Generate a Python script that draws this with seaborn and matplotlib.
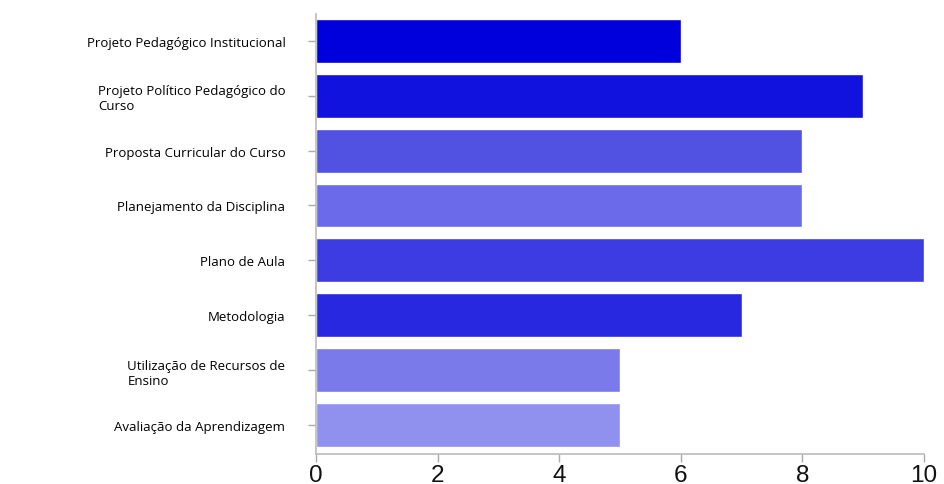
import matplotlib
matplotlib.use("Agg")
import matplotlib.pyplot as plt
import matplotlib.transforms as mtransforms
import seaborn as sns
import pandas as pd

categories = [
    "Projeto Pedagógico Institucional",
    "Projeto Político Pedagógico do\nCurso",
    "Proposta Curricular do Curso",
    "Planejamento da Disciplina",
    "Plano de Aula",
    "Metodologia",
    "Utilização de Recursos de\nEnsino",
    "Avaliação da Aprendizagem",
]
values = [6, 9, 8, 8, 10, 7, 5, 5]
colors = ["#0000DC", "#1212DE", "#5252E2", "#6A6AEA", "#3C3CE2", "#2828E0", "#7A7AEA", "#9090EE"]
xticks = [0, 2, 4, 6, 8, 10]

df = pd.DataFrame({"cat": categories, "val": values})

sns.set_style("white")
fig = plt.figure(figsize=(9.44, 4.85), dpi=100)
ax = fig.add_axes([0.3347, 0.062, 0.6441, 0.907])
sns.barplot(data=df, y="cat", x="val", hue="cat", palette=colors, legend=False,
            orient="h", width=0.8, ax=ax, saturation=1)
ax.set_xlim(0, 10)
ax.set_ylim(7.53, -0.49)
ax.set_xticks(xticks)
ax.set_xticklabels([str(t) for t in xticks], fontsize=17.5, fontfamily="Liberation Sans",
                   color="#111111")
ax.set_xlabel("")
ax.set_ylabel("")
offset = mtransforms.ScaledTranslation(0, 6 / 100, fig.dpi_scale_trans)
for lab in ax.get_yticklabels():
    lab.set_fontsize(9.5)
    lab.set_fontfamily("Open Sans")
    lab.set_color("black")
    lab.set_horizontalalignment("right")
    lab.set_multialignment("left")
    lab.set_transform(lab.get_transform() + offset)
for s in ["top", "right"]:
    ax.spines[s].set_visible(False)
for s in ["left", "bottom"]:
    ax.spines[s].set_color("#BBBBBB")
    ax.spines[s].set_linewidth(1.2)
ax.tick_params(axis="both", which="both", direction="out", length=6, color="#AAAAAA", width=1,
               left=True, bottom=True)
ax.tick_params(axis="y", pad=16)
ax.tick_params(axis="x", pad=1)
fig.savefig("out.png", dpi=100)
